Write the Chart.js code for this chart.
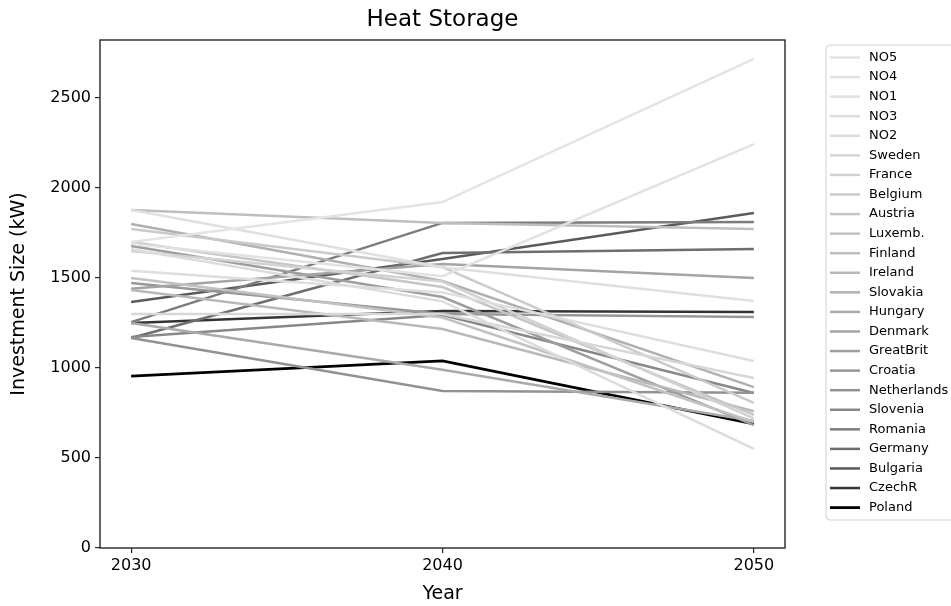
<!DOCTYPE html>
<html>
<head>
<meta charset="utf-8">
<script src="https://cdn.jsdelivr.net/npm/chart.js@4.4.1/dist/chart.umd.min.js"></script>
<style>
  html, body { margin: 0; padding: 0; background: #ffffff; }
  #wrap { width: 951px; height: 606px; position: relative; }
</style>
</head>
<body>
<div id="wrap"><canvas id="c" width="951" height="606"></canvas></div>
<script>
// Years on the x axis
const years = [2030, 2040, 2050];
const yTicks = [0, 500, 1000, 1500, 2000, 2500];

// Heat storage investment size (kW) per region, for 2030 / 2040 / 2050
const NO5 = [1700, 1922, 2717];
const NO4 = [1690, 1510, 2244];
const NO1 = [1878, 1560, 1372];
const NO3 = [1540, 1420, 1039];
const NO2 = [1660, 1370, 550];
const Sweden = [1300, 1300, 944];
const France = [1650, 1480, 720];
const Belgium = [1772, 1560, 806];
const Austria = [1700, 1450, 740];
const Luxemb = [1500, 1280, 700];
const Finland = [1878, 1806, 1772];
const Ireland = [1433, 1217, 760];
const Slovakia = [1800, 1483, 894];
const Hungary = [1250, 990, 705];
const Denmark = [1440, 1578, 1500];
const GreatBrit = [1678, 1394, 683];
const Croatia = [1472, 1300, 1283];
const Netherlands = [1167, 872, 862];
const Slovenia = [1172, 1294, 861];
const Romania = [1255, 1806, 1811];
const Germany = [1167, 1639, 1661];
const Bulgaria = [1367, 1605, 1861];
const CzechR = [1250, 1317, 1311];
const Poland = [955, 1040, 690];

const regionNames = ['NO5','NO4','NO1','NO3','NO2','Sweden','France','Belgium','Austria','Luxemb.',
  'Finland','Ireland','Slovakia','Hungary','Denmark','GreatBrit','Croatia','Netherlands',
  'Slovenia','Romania','Germany','Bulgaria','CzechR','Poland'];
const regionValues = [NO5, NO4, NO1, NO3, NO2, Sweden, France, Belgium, Austria, Luxemb,
  Finland, Ireland, Slovakia, Hungary, Denmark, GreatBrit, Croatia, Netherlands,
  Slovenia, Romania, Germany, Bulgaria, CzechR, Poland];

// grey ramp from light to black
const greys = [228, 226, 224, 222, 220, 215, 210, 202, 198, 194, 190, 184, 176, 170, 164, 158,
  152, 146, 136, 124, 110, 90, 52, 0];

const datasets = regionNames.map((name, i) => {
  const g = greys[i];
  const col = `rgb(${g},${g},${g})`;
  return {
    label: name,
    data: years.map((y, k) => ({ x: y, y: regionValues[i][k] })),
    borderColor: col,
    backgroundColor: col,
    borderWidth: i === regionNames.length - 1 ? 2.8 : 2.5,
    pointRadius: 0,
    tension: 0,
    fill: false
  };
});

const FONT = "'DejaVu Sans', sans-serif";

// frame around the plot area, title and the legend box on the right
const decorations = {
  id: 'decorations',
  afterDraw(chart) {
    const ctx = chart.ctx;
    const a = chart.chartArea;
    ctx.save();
    ctx.strokeStyle = '#262626';
    ctx.lineWidth = 1.4;
    ctx.strokeRect(a.left, a.top, a.right - a.left, a.bottom - a.top);

    ctx.fillStyle = '#000';
    ctx.font = `23px ${FONT}`;
    ctx.textAlign = 'center';
    ctx.textBaseline = 'alphabetic';
    ctx.fillText('Heat Storage', (a.left + a.right) / 2, 26);

    // legend
    const bx = 826, by = 45, bw = 140, bh = 475, r = 4;
    ctx.beginPath();
    ctx.moveTo(bx + r, by);
    ctx.lineTo(bx + bw, by);
    ctx.lineTo(bx + bw, by + bh);
    ctx.lineTo(bx + r, by + bh);
    ctx.arcTo(bx, by + bh, bx, by + bh - r, r);
    ctx.lineTo(bx, by + r);
    ctx.arcTo(bx, by, bx + r, by, r);
    ctx.closePath();
    ctx.fillStyle = 'rgba(255,255,255,0.85)';
    ctx.fill();
    ctx.strokeStyle = '#d0d0d0';
    ctx.lineWidth = 1;
    ctx.stroke();

    ctx.font = `13px ${FONT}`;
    ctx.textAlign = 'left';
    ctx.textBaseline = 'middle';
    const step = 19.57;
    chart.data.datasets.forEach((ds, i) => {
      const y = 57.5 + i * step;
      ctx.strokeStyle = ds.borderColor;
      ctx.lineWidth = ds.borderWidth;
      ctx.beginPath();
      ctx.moveTo(830, y);
      ctx.lineTo(860, y);
      ctx.stroke();
      ctx.fillStyle = '#000';
      ctx.fillText(ds.label, 869, y);
    });
    ctx.restore();
  }
};

new Chart(document.getElementById('c'), {
  type: 'line',
  data: { datasets },
  options: {
    responsive: false,
    animation: false,
    devicePixelRatio: 1,
    layout: { padding: { left: 0, right: 166, top: 40, bottom: 0 } },
    plugins: { legend: { display: false }, tooltip: { enabled: false }, title: { display: false } },
    scales: {
      x: {
        type: 'linear',
        min: 2029,
        max: 2051,
        afterBuildTicks(scale) { scale.ticks = years.map(v => ({ value: v })); },
        afterFit(scale) { scale.height = 58; },
        grid: { display: true, drawOnChartArea: false, drawTicks: true, tickLength: 5, color: '#262626', lineWidth: 1.2 },
        border: { display: false },
        ticks: { color: '#000', font: { family: FONT, size: 16 }, padding: 3, maxRotation: 0,
          callback: v => String(v) },
        title: { display: true, text: 'Year', color: '#000', font: { family: FONT, size: 19 }, padding: { top: 0, bottom: 1 } }
      },
      y: {
        min: 0,
        max: 2822,
        afterBuildTicks(scale) { scale.ticks = yTicks.map(v => ({ value: v })); },
        afterFit(scale) { scale.width = 100; },
        grid: { display: true, drawOnChartArea: false, drawTicks: true, tickLength: 5, color: '#262626', lineWidth: 1.2 },
        border: { display: false },
        ticks: { color: '#000', font: { family: FONT, size: 16 }, padding: 4, callback: v => String(v) },
        title: { display: true, text: 'Investment Size (kW)', color: '#000', font: { family: FONT, size: 19 }, padding: { top: 8, bottom: 0 } }
      }
    }
  },
  plugins: [decorations]
});
</script>
</body>
</html>
